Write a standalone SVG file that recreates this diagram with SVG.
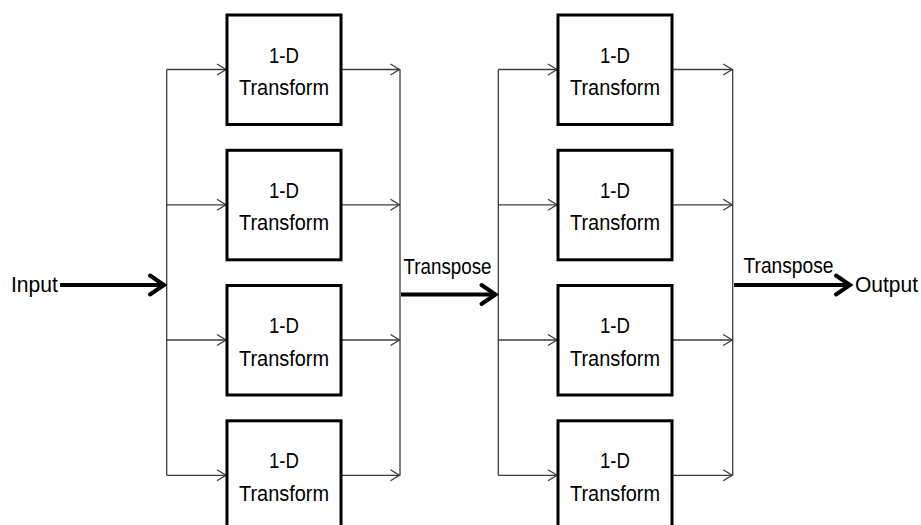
<svg xmlns="http://www.w3.org/2000/svg" width="921" height="525" viewBox="0 0 921 525">
  <style>
    .box { fill: #ffffff; stroke: #000000; stroke-width: 3; }
    .lbl { font-family: "Liberation Sans", Arial, sans-serif; font-size: 22px; fill: #000000; }
    .mid { text-anchor: middle; }
    .thin { fill: none; stroke: #3c3c3c; stroke-width: 1.3; }
    .thick { fill: none; stroke: #000000; stroke-width: 4; }
  </style>
  <defs>
    <marker id="openThin" markerUnits="userSpaceOnUse" markerWidth="12" markerHeight="14" refX="10" refY="6" orient="auto" overflow="visible">
      <path d="M1,0.5 L10,6 L1,11.5" fill="none" stroke="#3c3c3c" stroke-width="1.3"/>
    </marker>
    <marker id="openThick" markerUnits="userSpaceOnUse" markerWidth="20" markerHeight="24" refX="15" refY="10" orient="auto" overflow="visible">
      <path d="M1,0.5 L15,10 L1,19.5" fill="none" stroke="#000000" stroke-width="4" stroke-linecap="round" stroke-linejoin="miter"/>
    </marker>
  </defs>

  <!-- connectors -->
  <g id="connectors">
    <!-- stage 1 fan-out bus and inputs -->
    <line class="thin" x1="166.7" y1="69.5" x2="166.7" y2="475.3"/>
    <line class="thin" x1="166.7" y1="69.5" x2="226" y2="69.5" marker-end="url(#openThin)"/>
    <line class="thin" x1="166.7" y1="204.8" x2="226" y2="204.8" marker-end="url(#openThin)"/>
    <line class="thin" x1="166.7" y1="340" x2="226" y2="340" marker-end="url(#openThin)"/>
    <line class="thin" x1="166.7" y1="475.3" x2="226" y2="475.3" marker-end="url(#openThin)"/>
    <!-- stage 1 outputs and fan-in bus -->
    <line class="thin" x1="400" y1="69.5" x2="400" y2="475.3"/>
    <line class="thin" x1="342" y1="69.5" x2="399.5" y2="69.5" marker-end="url(#openThin)"/>
    <line class="thin" x1="342" y1="204.8" x2="399.5" y2="204.8" marker-end="url(#openThin)"/>
    <line class="thin" x1="342" y1="340" x2="399.5" y2="340" marker-end="url(#openThin)"/>
    <line class="thin" x1="342" y1="475.3" x2="399.5" y2="475.3" marker-end="url(#openThin)"/>
    <!-- stage 2 fan-out bus and inputs -->
    <line class="thin" x1="498.3" y1="69.5" x2="498.3" y2="475.3"/>
    <line class="thin" x1="498.3" y1="69.5" x2="557" y2="69.5" marker-end="url(#openThin)"/>
    <line class="thin" x1="498.3" y1="204.8" x2="557" y2="204.8" marker-end="url(#openThin)"/>
    <line class="thin" x1="498.3" y1="340" x2="557" y2="340" marker-end="url(#openThin)"/>
    <line class="thin" x1="498.3" y1="475.3" x2="557" y2="475.3" marker-end="url(#openThin)"/>
    <!-- stage 2 outputs and fan-in bus -->
    <line class="thin" x1="732.7" y1="69.5" x2="732.7" y2="475.3"/>
    <line class="thin" x1="673" y1="69.5" x2="732.2" y2="69.5" marker-end="url(#openThin)"/>
    <line class="thin" x1="673" y1="204.8" x2="732.2" y2="204.8" marker-end="url(#openThin)"/>
    <line class="thin" x1="673" y1="340" x2="732.2" y2="340" marker-end="url(#openThin)"/>
    <line class="thin" x1="673" y1="475.3" x2="732.2" y2="475.3" marker-end="url(#openThin)"/>
    <!-- main data path -->
    <line class="thick" x1="60" y1="285" x2="164" y2="285" marker-end="url(#openThick)"/>
    <line class="thick" x1="401" y1="294.5" x2="495.5" y2="294.5" marker-end="url(#openThick)"/>
    <line class="thick" x1="734" y1="285" x2="850" y2="285" marker-end="url(#openThick)"/>
  </g>

  <!-- labels on the main path -->
  <g id="io-labels">
    <text class="lbl" x="11" y="292" textLength="47" lengthAdjust="spacingAndGlyphs">Input</text>
    <text class="lbl" x="403.5" y="273.5" textLength="88" lengthAdjust="spacingAndGlyphs">Transpose</text>
    <text class="lbl" x="743.5" y="272.5" textLength="90" lengthAdjust="spacingAndGlyphs">Transpose</text>
    <text class="lbl" x="855" y="292" textLength="63" lengthAdjust="spacingAndGlyphs">Output</text>
  </g>

  <!-- stage 1 transforms -->
  <g id="s1-t1">
    <rect class="box" x="227" y="15" width="114" height="109.5"/>
    <text class="lbl mid" x="284" y="62.5" textLength="30" lengthAdjust="spacingAndGlyphs">1-D</text>
    <text class="lbl mid" x="284" y="95" textLength="90" lengthAdjust="spacingAndGlyphs">Transform</text>
  </g>
  <g id="s1-t2">
    <rect class="box" x="227" y="150.3" width="114" height="109.5"/>
    <text class="lbl mid" x="284" y="197.8" textLength="30" lengthAdjust="spacingAndGlyphs">1-D</text>
    <text class="lbl mid" x="284" y="230.3" textLength="90" lengthAdjust="spacingAndGlyphs">Transform</text>
  </g>
  <g id="s1-t3">
    <rect class="box" x="227" y="285.5" width="114" height="109.5"/>
    <text class="lbl mid" x="284" y="333" textLength="30" lengthAdjust="spacingAndGlyphs">1-D</text>
    <text class="lbl mid" x="284" y="365.5" textLength="90" lengthAdjust="spacingAndGlyphs">Transform</text>
  </g>
  <g id="s1-t4">
    <rect class="box" x="227" y="420.8" width="114" height="109.5"/>
    <text class="lbl mid" x="284" y="468.3" textLength="30" lengthAdjust="spacingAndGlyphs">1-D</text>
    <text class="lbl mid" x="284" y="500.8" textLength="90" lengthAdjust="spacingAndGlyphs">Transform</text>
  </g>

  <!-- stage 2 transforms -->
  <g id="s2-t1">
    <rect class="box" x="558" y="15" width="114" height="109.5"/>
    <text class="lbl mid" x="615" y="62.5" textLength="30" lengthAdjust="spacingAndGlyphs">1-D</text>
    <text class="lbl mid" x="615" y="95" textLength="90" lengthAdjust="spacingAndGlyphs">Transform</text>
  </g>
  <g id="s2-t2">
    <rect class="box" x="558" y="150.3" width="114" height="109.5"/>
    <text class="lbl mid" x="615" y="197.8" textLength="30" lengthAdjust="spacingAndGlyphs">1-D</text>
    <text class="lbl mid" x="615" y="230.3" textLength="90" lengthAdjust="spacingAndGlyphs">Transform</text>
  </g>
  <g id="s2-t3">
    <rect class="box" x="558" y="285.5" width="114" height="109.5"/>
    <text class="lbl mid" x="615" y="333" textLength="30" lengthAdjust="spacingAndGlyphs">1-D</text>
    <text class="lbl mid" x="615" y="365.5" textLength="90" lengthAdjust="spacingAndGlyphs">Transform</text>
  </g>
  <g id="s2-t4">
    <rect class="box" x="558" y="420.8" width="114" height="109.5"/>
    <text class="lbl mid" x="615" y="468.3" textLength="30" lengthAdjust="spacingAndGlyphs">1-D</text>
    <text class="lbl mid" x="615" y="500.8" textLength="90" lengthAdjust="spacingAndGlyphs">Transform</text>
  </g>
</svg>
